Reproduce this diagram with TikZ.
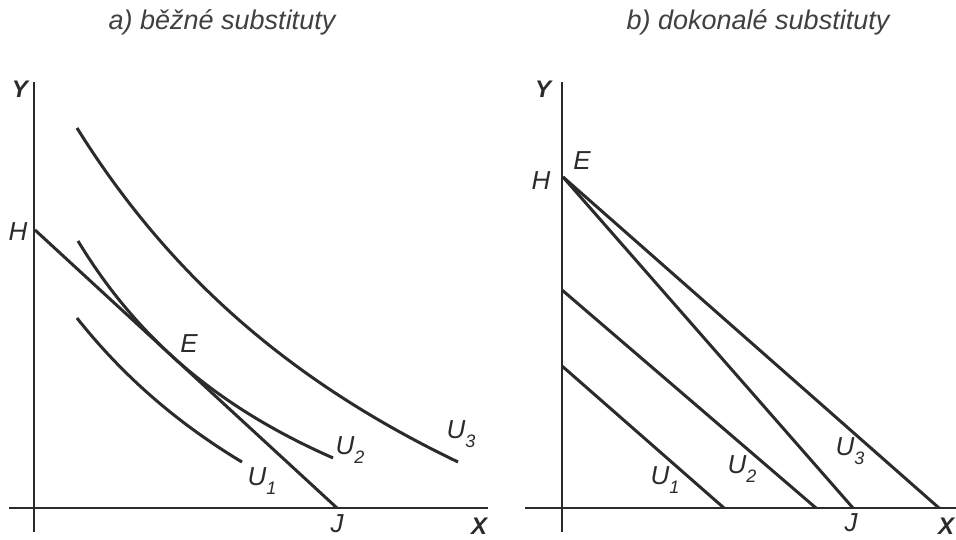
\documentclass[tikz,border=0pt]{standalone}
\usepackage{fontspec}
\setmainfont{Liberation Sans}
\definecolor{ink}{HTML}{2B2B2B}
\newcommand{\usub}[1]{U\raisebox{-0.36em}{\fontsize{18}{18}\selectfont #1}}
\begin{document}
\begin{tikzpicture}[x=1pt,y=-1pt,
  axis/.style={line width=1.3pt, draw=ink},
  curve/.style={line width=3pt, draw=ink},
  lab/.style={font=\fontsize{26}{26}\selectfont\itshape, text=ink, inner sep=0pt},
  axlab/.style={font=\fontsize{24}{24}\selectfont\bfseries\itshape, text=ink, inner sep=0pt},
  ttl/.style={font=\fontsize{27}{27}\selectfont\itshape, text=ink!90, inner sep=0pt}]
\useasboundingbox (0,0) rectangle (956,540);
% titles
\node[ttl] (ta) at (222,22) {a) běžné substituty};
\node[ttl] (tb) at (758,22) {b) dokonalé substituty};
% ---------- panel a ----------
\coordinate (aYt) at (34,82);
\coordinate (aYb) at (34,532);
\coordinate (aXl) at (9,508);
\coordinate (aXr) at (488,508);
\coordinate (aH) at (35,230);
\coordinate (aJ) at (337,508);
\draw[axis] (aYt) -- (aYb);
\draw[axis] (aXl) -- (aXr);
\draw[curve] (aH) -- (aJ);
\draw[curve] plot[domain=77:242, samples=60] (\x, {783.2 - 1711.8/((\x+291)/100)});
\draw[curve] plot[domain=78:333, samples=80] (\x, {689.6 - 1221.63/((\x+194.3)/100)});
\draw[curve] plot[domain=77:458, samples=100] (\x, {865.5 - 3394.76/((\x+383.3)/100)});
\node[axlab] (aY) at (20,89) {Y};
\node[axlab] (aX) at (479,526) {X};
\node[lab] (aHl) at (18,232) {H};
\node[lab] (aE) at (189,344) {E};
\node[lab] (aJl) at (337,524) {J};
\node[lab] (aU1) at (262,481) {\usub{1}};
\node[lab] (aU2) at (350,450) {\usub{2}};
\node[lab] (aU3) at (461,434) {\usub{3}};
% ---------- panel b ----------
\coordinate (bYt) at (562,82);
\coordinate (bYb) at (562,532);
\coordinate (bXl) at (525,508);
\coordinate (bXr) at (960,508);
\coordinate (bH) at (563,177);
\coordinate (bJ) at (853,508);
\coordinate (bU3e) at (939,508);
\coordinate (bU2s) at (562,290);
\coordinate (bU2e) at (816,508);
\coordinate (bU1s) at (562,366);
\coordinate (bU1e) at (724,508);
\draw[axis] (bYt) -- (bYb);
\draw[axis] (bXl) -- (bXr);
\draw[curve] (bH) -- (bJ);
\draw[curve] (bH) -- (bU3e);
\draw[curve] (bU2s) -- (bU2e);
\draw[curve] (bU1s) -- (bU1e);
\node[axlab] (bY) at (543,89) {Y};
\node[axlab] (bX) at (946,526) {X};
\node[lab] (bHl) at (541,181) {H};
\node[lab] (bE) at (582,161) {E};
\node[lab] (bJl) at (851,523) {J};
\node[lab] (bU1) at (665,480) {\usub{1}};
\node[lab] (bU2) at (742,469) {\usub{2}};
\node[lab] (bU3) at (850,451) {\usub{3}};
\end{tikzpicture}
\end{document}
